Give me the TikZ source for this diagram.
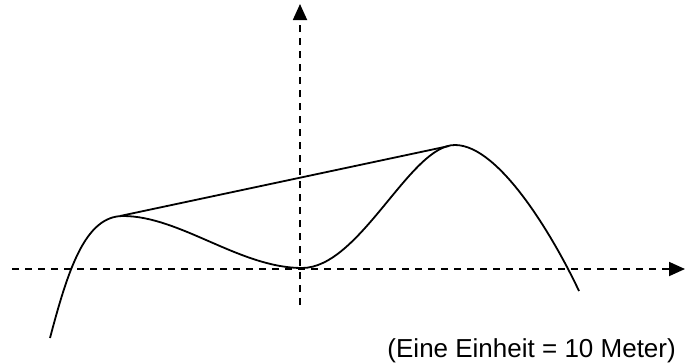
\documentclass[tikz,border=0pt]{standalone}
\usepackage{fontspec}
\setmainfont{Liberation Sans}
\usetikzlibrary{arrows.meta}
\begin{document}
\begin{tikzpicture}[x=1pt,y=-1pt,
  axis/.style={line width=1.8pt,dash pattern=on 7pt off 6pt,-{Triangle[length=16pt,width=14pt]}},
  curve/.style={line width=1.8pt},
  secant/.style={line width=1.8pt},
  lbl/.style={font=\fontsize{26}{30}\selectfont,inner sep=0pt,anchor=base east}]
\useasboundingbox (0,0) rectangle (687,362);
\coordinate (xs) at (12,269);
\coordinate (xe) at (685,269);
\coordinate (ys) at (300,305);
\coordinate (ye) at (300,4);
\coordinate (a) at (50,338);
\coordinate (m1) at (123,216);
\coordinate (m2) at (302,268);
\coordinate (m3) at (455,145);
\coordinate (b) at (579,291);
\coordinate (l1) at (120,216);
\coordinate (l2) at (449,146);
\draw[axis] (xs) -- (xe);
\draw[axis] (ys) -- (ye);
\draw[curve] (a) .. controls (68,270) and (85,216) .. (m1)
  .. controls (180,216) and (240,268) .. (m2)
  .. controls (360,268) and (410,145) .. (m3)
  .. controls (500,145) and (555,240) .. (b);
\draw[secant] (l1) -- (l2);
\node[lbl] (t) at (676,357) {(Eine Einheit = 10 Meter)};
\end{tikzpicture}
\end{document}
